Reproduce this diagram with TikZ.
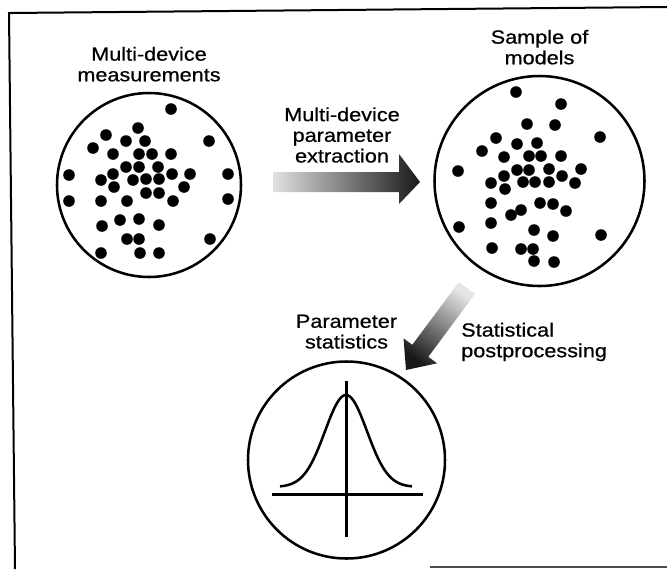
\documentclass[tikz,border=0pt]{standalone}
\usepackage{fontspec}
\setmainfont{Liberation Sans}[FakeStretch=1.14,FakeBold=0.6]
\usetikzlibrary{positioning}
\tikzset{
        disc/.style={circle,draw,line width=1.9pt,inner sep=0pt,minimum size=#1},
        lbl/.style={inner sep=0pt,align=center,font=\fontsize{14.25}{15.5}\selectfont},
        thick line/.style={line width=1.9pt}
    }

\begin{document}
\begin{tikzpicture}[x=0.75pt,y=-0.75pt]
                \useasboundingbox (0,0) rectangle (667,569);
                \draw[line width=1.5pt] (667,7) -- (9,13) -- (15,569);
                \draw[line width=1.5pt,black!70] (430,567) -- (667,567);
                \node[disc=138pt] (meas) at (149,185) {};
                \node[disc=157.5pt] (models) at (539.5,181) {};
                \node[disc=147.75pt] (stats) at (346.5,460) {};
                \node[lbl,above=7.5pt of meas] (measlbl) {Multi-device\\measurements};
                \node[lbl,above=7.5pt of models] (modelslbl) {Sample of\\models};
                \node[lbl,above=8.5pt of stats] (statslbl) {Parameter\\statistics};
                \node[lbl] (extractlbl) at (342,135) {Multi-device\\parameter\\extraction};
                \node[lbl,align=left,anchor=north west] (postlbl) at (461,322.5) {Statistical\\postprocessing};
                \foreach \px/\py in {171/109,138/128,106/135,126/141,145/141,209/141,93/148,113/154,
                    139/154,152/154,171/154,126/167,139/167,158/167,69/175,113/174,172/174,190/174,
                    228/174,101/180,133/180,146/179,159/179,114/187,184/187,146/193,159/193,69/201,
                    101/201,127/201,173/201,228/199,120/220,139/219,102/226,159/225,127/239,139/239,
                    210/239,101/253,140/253,159/253}
                    \fill (\px,\py) circle (5.8);
                \foreach \px/\py in {516/92,561/104,527/124,555/125,496/138,600/137,517/144,537/143,
                    482/151,504/157,529/156,541/156,561/156,458/171,517/170,529/170,549/169,581/169,
                    504/176,562/176,491/183,523/182,535/182,549/182,575/183,505/189,491/203,540/203,
                    553/204,521/210,566/211,511/215,459/227,491/223,534/230,553/236,601/235,492/248,
                    521/249,533/249,534/261,554/262}
                    \fill (\px,\py) circle (5.8);
                \shade[left color=black!12,right color=black!90]
                    (273,172) -- (399,172) -- (399,154) -- (420,182) -- (399,204) -- (399,192) -- (273,192) -- cycle;
                \shade[top color=black!90,bottom color=black!10,shading angle=143.4]
                    (459,282) -- (412.3,344.8) -- (403.5,338.3) -- (406,370) -- (437.1,363.3) -- (428.3,356.8) -- (475,294) -- cycle;
                \draw[thick line] (346.5,381) -- (346.5,537);
                \draw[thick line] (272,494.5) -- (423,494.5);
                \draw[thick line] plot[domain=-66:66,samples=90,smooth] ({346+\x},{487-92*exp(-(\x*\x)/882)});
            \end{tikzpicture}
\end{document}
